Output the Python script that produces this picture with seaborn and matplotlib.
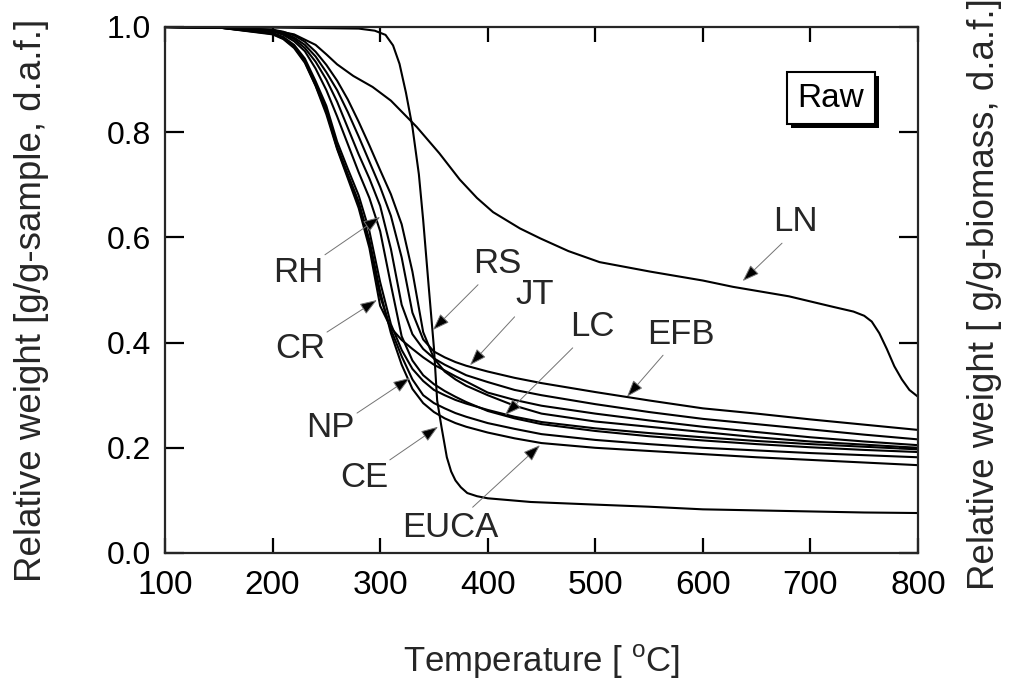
import matplotlib
matplotlib.use("Agg")
import matplotlib.pyplot as plt
import matplotlib.patheffects as pe
from matplotlib import font_manager
import pandas as pd
import seaborn as sns

# temperature grid shared by the biomass curves [deg C]
temp = [100, 150, 200, 210, 220, 230, 240, 250, 260, 270, 280, 290, 300, 310, 320,
        330, 340, 350, 360, 370, 380, 400, 425, 450, 500, 550, 600, 650, 700, 750, 800]

# relative weight
cr = [1.000, 0.999, 0.986, 0.977, 0.960, 0.932, 0.888, 0.834, 0.768, 0.712, 0.656, 0.580,
      0.470, 0.428, 0.405, 0.388, 0.372, 0.358, 0.347, 0.336, 0.326, 0.305, 0.291, 0.280,
      0.265, 0.252, 0.240, 0.230, 0.220, 0.212, 0.205]
np_ = [1.000, 0.999, 0.987, 0.978, 0.962, 0.934, 0.889, 0.840, 0.770, 0.716, 0.663, 0.588,
       0.488, 0.425, 0.374, 0.330, 0.300, 0.285, 0.275, 0.266, 0.259, 0.247, 0.236, 0.226,
       0.215, 0.207, 0.200, 0.195, 0.190, 0.186, 0.182]
euca = [1.000, 0.999, 0.988, 0.979, 0.964, 0.936, 0.891, 0.843, 0.773, 0.720, 0.668, 0.595,
        0.497, 0.418, 0.358, 0.312, 0.285, 0.268, 0.256, 0.247, 0.240, 0.229, 0.218, 0.209,
        0.200, 0.194, 0.188, 0.182, 0.177, 0.172, 0.167]
lc = [1.000, 0.999, 0.989, 0.981, 0.966, 0.940, 0.897, 0.850, 0.782, 0.730, 0.680, 0.612,
      0.515, 0.435, 0.386, 0.350, 0.327, 0.310, 0.300, 0.291, 0.284, 0.272, 0.259, 0.249,
      0.237, 0.228, 0.220, 0.213, 0.207, 0.202, 0.197]
rh = [1.000, 0.999, 0.992, 0.985, 0.973, 0.954, 0.921, 0.880, 0.830, 0.777, 0.724, 0.675,
      0.612, 0.510, 0.412, 0.366, 0.338, 0.321, 0.308, 0.297, 0.287, 0.270, 0.256, 0.245,
      0.232, 0.222, 0.214, 0.207, 0.201, 0.196, 0.192]
jt = [1.000, 0.999, 0.993, 0.987, 0.977, 0.960, 0.934, 0.900, 0.858, 0.808, 0.758, 0.712,
      0.660, 0.578, 0.472, 0.416, 0.388, 0.370, 0.358, 0.348, 0.338, 0.325, 0.310, 0.300,
      0.283, 0.268, 0.255, 0.245, 0.235, 0.225, 0.216]
efb = [1.000, 0.999, 0.994, 0.989, 0.980, 0.966, 0.944, 0.914, 0.880, 0.838, 0.792, 0.744,
       0.696, 0.641, 0.562, 0.457, 0.406, 0.383, 0.372, 0.363, 0.356, 0.345, 0.333, 0.323,
       0.306, 0.290, 0.275, 0.265, 0.254, 0.244, 0.234]
rs = [1.000, 0.999, 0.995, 0.991, 0.984, 0.972, 0.953, 0.928, 0.898, 0.862, 0.820, 0.775,
      0.728, 0.682, 0.625, 0.535, 0.420, 0.370, 0.345, 0.330, 0.318, 0.300, 0.280, 0.265,
      0.250, 0.240, 0.230, 0.220, 0.212, 0.206, 0.200]

# cellulose (steep drop) and lignin (slow drop) have their own grids
ce_temp = [100, 200, 280, 295, 305, 312, 318, 324, 330, 336, 340, 345, 350, 353, 357, 362,
           366, 370, 375, 381, 390, 400, 440, 500, 550, 600, 650, 700, 750, 800]
ce = [1.0, 0.999, 0.997, 0.993, 0.985, 0.965, 0.93, 0.875, 0.81, 0.72, 0.633, 0.51, 0.39,
      0.29, 0.24, 0.182, 0.155, 0.138, 0.125, 0.114, 0.108, 0.104, 0.097, 0.092, 0.088,
      0.083, 0.081, 0.079, 0.077, 0.076]
ln_temp = [100, 150, 200, 220, 240, 250, 260, 275, 293, 310, 334, 355, 374, 390, 405, 430,
           449, 475, 504, 551, 600, 628, 680, 721, 740, 750, 757, 764, 771, 778, 785, 792, 800]
ln = [1.0, 0.999, 0.994, 0.986, 0.966, 0.948, 0.929, 0.907, 0.886, 0.86, 0.81, 0.76, 0.71,
      0.675, 0.648, 0.617, 0.598, 0.574, 0.553, 0.535, 0.518, 0.506, 0.488, 0.468, 0.459,
      0.451, 0.44, 0.418, 0.388, 0.355, 0.33, 0.31, 0.297]

# labels: name, text position, arrow tail, arrow tip (data coords)
labels = ["RH", "CR", "NP", "CE", "EUCA", "RS", "JT", "LC", "EFB", "LN"]
label_pos = [(223.6, 0.534), (226, 0.388), (253.4, 0.238), (285, 0.143), (365, 0.049),
             (408.6, 0.551), (444, 0.492), (497, 0.43), (579.7, 0.416), (685.7, 0.631)]
arrow_tail = [(248.7, 0.567), (250.6, 0.42), (278.5, 0.266), (309, 0.177), (386, 0.087),
              (391, 0.51), (425, 0.449), (479, 0.39), (563, 0.376), (673.6, 0.589)]
arrow_tip = [(300, 0.639), (297, 0.481), (327.8, 0.333), (353.8, 0.24), (448.6, 0.205),
             (349, 0.424), (383.5, 0.357), (416, 0.262), (529.5, 0.297), (637, 0.517)]

frames = []
for name, w in [("CR", cr), ("NP", np_), ("EUCA", euca), ("LC", lc), ("RH", rh),
                ("JT", jt), ("EFB", efb), ("RS", rs)]:
    frames.append(pd.DataFrame({"T": temp, "w": w, "sample": name}))
frames.append(pd.DataFrame({"T": ce_temp, "w": ce, "sample": "CE"}))
frames.append(pd.DataFrame({"T": ln_temp, "w": ln, "sample": "LN"}))
df = pd.concat(frames, ignore_index=True)

sns.set_style("ticks")
names = {f.name for f in font_manager.fontManager.ttflist}
narrow = "Liberation Sans Narrow" if "Liberation Sans Narrow" in names else "Liberation Sans"
plt.rcParams["font.family"] = ["Liberation Sans", "DejaVu Sans"]
plt.rcParams["mathtext.fontset"] = "custom"
plt.rcParams["mathtext.rm"] = narrow

fig = plt.figure(figsize=(10.12, 6.91), dpi=100)
ax = fig.add_axes([165 / 1012, 1 - 553 / 691, 753 / 1012, 526 / 691])

sns.lineplot(data=df, x="T", y="w", units="sample", estimator=None, sort=False,
             color="black", lw=1.5, ax=ax, legend=False)

ax.set_xlim(100, 800)
ax.set_ylim(0, 1.0)
ax.set_xticks(range(100, 801, 100))
ax.set_yticks([0.0, 0.2, 0.4, 0.6, 0.8, 1.0])
ax.set_yticklabels(["0.0", "0.2", "0.4", "0.6", "0.8", "1.0"])
ax.set_xlabel("")
ax.set_ylabel("")
for s in ax.spines.values():
    s.set_linewidth(1.6)
    s.set_visible(True)
ax.tick_params(axis="both", direction="in", top=True, right=True, width=1.6,
               color="black", labelcolor="black")
ax.tick_params(axis="x", length=11, pad=12, labelsize=24)
ax.tick_params(axis="y", length=14, pad=10, labelsize=23)
for t in ax.get_xticklabels():
    t.set_fontfamily(narrow)

for name, pos, tail, tip in zip(labels, label_pos, arrow_tail, arrow_tip):
    ax.text(pos[0], pos[1], name, ha="center", va="center", fontsize=25)
    ax.annotate("", xy=tip, xytext=tail,
                arrowprops=dict(arrowstyle="-|>,head_length=0.7,head_width=0.25",
                                mutation_scale=15, fc="black", ec="0.45", lw=0.7,
                                shrinkA=0, shrinkB=0))

# "Raw" box with drop shadow
raw = ax.text(719, 0.865, "Raw", ha="center", va="center", fontsize=24, color="black",
              bbox=dict(boxstyle="square,pad=0.32", fc="white", ec="black", lw=1.5))
raw.get_bbox_patch().set_path_effects(
    [pe.SimplePatchShadow(offset=(3, -3), shadow_rgbFace="black", alpha=1.0), pe.Normal()])

fig.text(32 / 1012, 1 - 300 / 691, "Relative weight [g/g-sample, d.a.f.]", rotation=90,
         ha="center", va="center", fontsize=26.5)
fig.text(985 / 1012, 1 - 590 / 691, "Relative weight [ g/g-biomass, d.a.f.]", rotation=90,
         ha="center", va="bottom", fontsize=26.5)
fig.text(542 / 1012, 1 - 662 / 691, r"Temperature [ $^\mathregular{o}$C]", ha="center",
         va="center", fontsize=25, family=narrow)

fig.savefig("out.png", dpi=100)
